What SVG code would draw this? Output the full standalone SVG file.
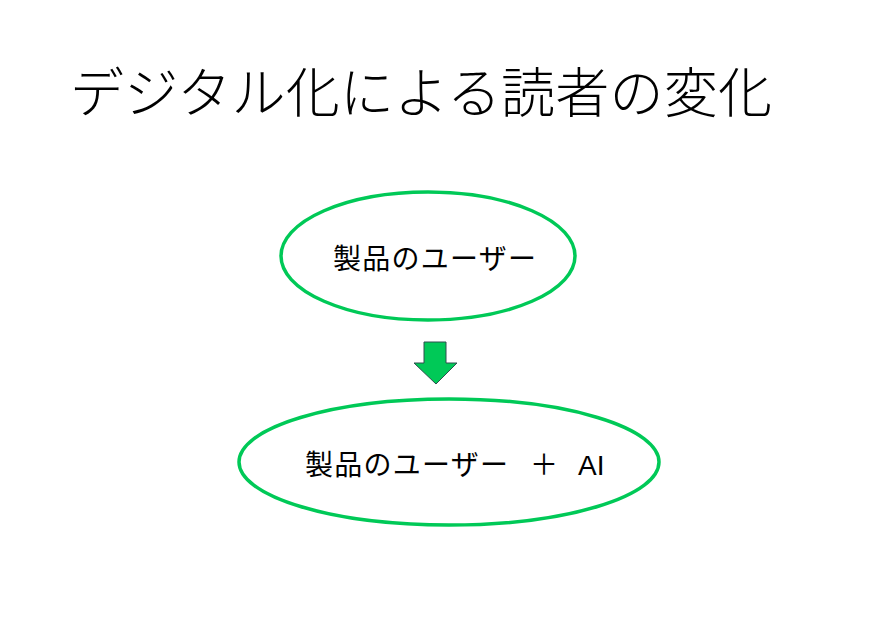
<svg xmlns="http://www.w3.org/2000/svg" width="886" height="626" viewBox="0 0 886 626">
<style>
.e{fill:#fff;stroke:#00c957;stroke-width:3.5}
.t{font-family:"Noto Sans CJK JP","Noto Sans",sans-serif;fill:#000}
.n{font-size:28px;font-weight:400}
</style>
<rect width="886" height="626" fill="#fff"/>
<text class="t" x="70" y="113" font-size="54" font-weight="300" textLength="702">デジタル化による読者の変化</text>
<g id="node1"><ellipse class="e" cx="428" cy="256" rx="147" ry="64"/><text class="t n" x="333" y="269" textLength="203">製品のユーザー</text></g>
<g id="connectors"><path d="M424,342 H446 V363 H457 L436,384 L414,363 H424 Z" fill="#00c957" stroke="#2f4f4f" stroke-width="1"/></g>
<g id="node2"><ellipse class="e" cx="449" cy="462" rx="210" ry="63"/><text class="t n" x="305" y="475"><tspan textLength="203">製品のユーザー</tspan><tspan x="530">＋</tspan><tspan x="578" font-family="Liberation Sans,sans-serif">AI</tspan></text></g>
</svg>
